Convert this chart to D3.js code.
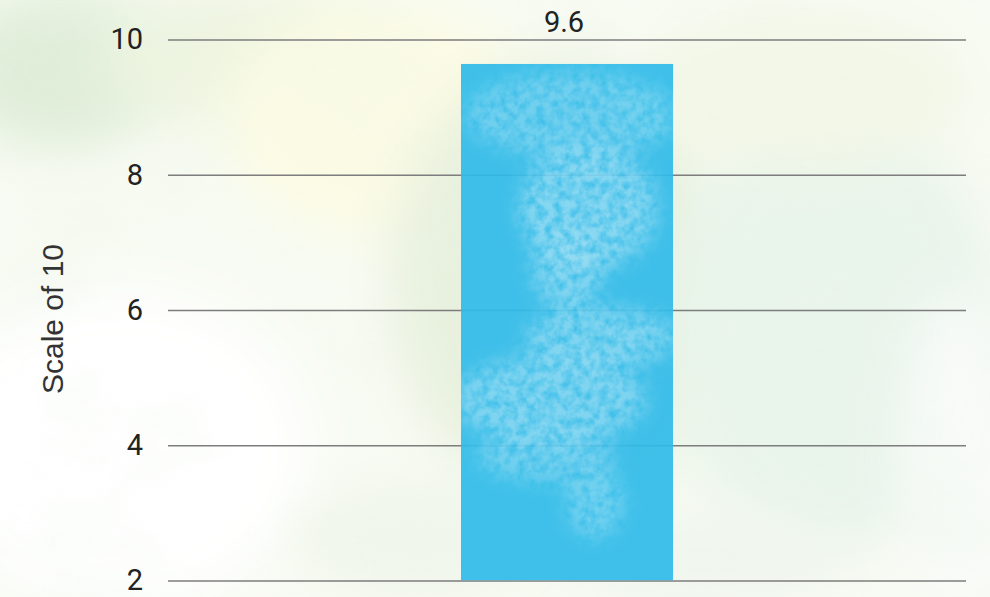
<!DOCTYPE html>
<html><head><meta charset="utf-8">
<script src="https://cdn.jsdelivr.net/npm/d3@7"></script>
<style>html,body{margin:0;padding:0;background:#f7faf1;overflow:hidden}</style>
</head><body>
<svg id="c" width="990" height="597"></svg>
<script>
// data
const categories = ["Score"];
const values = [9.64];
const labels = ["9.6"];
const yTicks = [2, 4, 6, 8, 10];
const yTitle = "Scale of 10";

const W = 990, H = 597;
const m = {left: 168, right: 24, top: 39.5, bottom: 16.5};
const svg = d3.select("#c");
const defs = svg.append("defs");

// background blur filter
const blur = defs.append("filter").attr("id","blur").attr("x","-50%").attr("y","-50%").attr("width","200%").attr("height","200%");
blur.append("feGaussianBlur").attr("stdDeviation", 26);

const bgGrainF = defs.append("filter").attr("id","grain").attr("x",0).attr("y",0).attr("width","100%").attr("height","100%");
bgGrainF.append("feTurbulence").attr("type","fractalNoise").attr("baseFrequency","0.006 0.008").attr("numOctaves",4).attr("seed",7).attr("result","n");
bgGrainF.append("feColorMatrix").attr("in","n").attr("type","matrix")
  .attr("values","0 0 0 0 0.82  0 0 0 0 0.91  0 0 0 0 0.80  1.6 0 0 0 -0.78");
bgGrainF.append("feComposite").attr("in2","SourceGraphic").attr("operator","in");

// bar texture filter: blur the pale zones, multiply by fine speckle
const wf = defs.append("filter").attr("id","wc").attr("x","-10%").attr("y","-10%").attr("width","120%").attr("height","120%");
wf.append("feGaussianBlur").attr("in","SourceGraphic").attr("stdDeviation",10).attr("result","b");
wf.append("feTurbulence").attr("type","fractalNoise").attr("baseFrequency","0.11").attr("numOctaves",3).attr("seed",9).attr("result","hi");
wf.append("feColorMatrix").attr("in","hi").attr("type","matrix")
  .attr("values","0 0 0 0 1  0 0 0 0 1  0 0 0 0 1  1.8 0 0 0 -0.2").attr("result","hiA");
wf.append("feComposite").attr("in","b").attr("in2","hiA").attr("operator","arithmetic")
  .attr("k1",1).attr("k2",0).attr("k3",0).attr("k4",0);

// background
const bg = svg.append("g");
bg.append("rect").attr("width",W).attr("height",H).attr("fill","#f8fbf3");
const blobs = [
  [60, 70, 110, 80, "#e0eed9"],
  [250, 60, 150, 70, "#edf4e0"],
  [380, 120, 160, 120, "#fbfbe5"],
  [120, 450, 190, 160, "#ffffff"],
  [560, 280, 170, 220, "#e8f1de"],
  [830, 330, 170, 220, "#e9f4eb"],
  [800, 90, 170, 80, "#f2f7e7"],
  [960, 450, 60, 160, "#f8fbf8"],
  [420, 540, 120, 60, "#f0f6ec"],
  [700, 560, 150, 50, "#f0f6ee"]
];
bg.selectAll("ellipse").data(blobs).join("ellipse")
  .attr("cx", d=>d[0]).attr("cy", d=>d[1]).attr("rx", d=>d[2]).attr("ry", d=>d[3])
  .attr("fill", d=>d[4]).attr("filter","url(#blur)");
bg.append("rect").attr("width",W).attr("height",H).attr("fill","#ffffff").attr("filter","url(#grain)").attr("opacity",0.45);

// scales
const y = d3.scaleLinear().domain([2, 10]).range([580.5, 39.5]);
const x = d3.scaleBand().domain(categories).range([m.left, W - m.right]).paddingInner(0.58).paddingOuter(0.58);

// grid/axis
const ax = svg.append("g").attr("transform", `translate(${m.left},0)`)
  .call(d3.axisLeft(y).tickValues(yTicks).tickSize(-(W - m.right - m.left)).tickPadding(25).tickFormat(d3.format("d")));
ax.select(".domain").remove();
ax.selectAll(".tick line").attr("stroke","#7d7d7d").attr("stroke-width",1.6);
ax.selectAll(".tick text").attr("fill","#222").style("font-family","Roboto, 'Open Sans', sans-serif").style("font-size","29px");

// bars (slightly translucent so grid shows through, as in the reference)
const bars = svg.append("g");
values.forEach((v, i) => {
  const bx = x(categories[i]), bw = x.bandwidth(), by = y(v), bh = y(2) - y(v);
  const cid = "clip" + i;
  defs.append("clipPath").attr("id", cid).append("rect").attr("x", bx).attr("y", by).attr("width", bw).attr("height", bh);
  const g = bars.append("g").attr("clip-path", `url(#${cid})`).attr("opacity", 0.92);
  g.append("rect").attr("class","bar").attr("x", bx).attr("y", by).attr("width", bw).attr("height", bh).attr("fill","#2fbbea");
  // pale watercolour zones, placed as fractions of the bar box
  const zones = [
    [0.52, 0.10, 0.50, 0.085, 0.55],
    [0.60, 0.28, 0.33, 0.12, 0.75],
    [0.50, 0.40, 0.17, 0.075, 0.7],
    [0.66, 0.53, 0.36, 0.06, 0.7],
    [0.42, 0.65, 0.46, 0.085, 0.7],
    [0.40, 0.76, 0.33, 0.05, 0.55],
    [0.63, 0.85, 0.14, 0.07, 0.55]
  ];
  const tex = g.append("g").attr("filter","url(#wc)").attr("opacity", 0.5);
  tex.selectAll("ellipse").data(zones).join("ellipse")
    .attr("cx", d => bx + d[0]*bw).attr("cy", d => by + d[1]*bh)
    .attr("rx", d => d[2]*bw).attr("ry", d => d[3]*bh)
    .attr("fill","#ffffff").attr("opacity", d => d[4]);
});

// value labels
svg.append("g").selectAll("text").data(values).join("text")
  .attr("x", (d,i)=>x(categories[i]) + x.bandwidth()/2 - 3)
  .attr("y", 32)
  .attr("text-anchor","middle")
  .attr("fill","#222")
  .style("font-family","Roboto, 'Open Sans', sans-serif").style("font-size","29px")
  .text((d,i)=>labels[i]);

// axis title
svg.append("text")
  .attr("transform","translate(63,319) rotate(-90)")
  .attr("text-anchor","middle")
  .attr("fill","#333")
  .style("font-family","'Liberation Sans', Arial, sans-serif").style("font-size","30px")
  .text(yTitle);
</script>
</body></html>
